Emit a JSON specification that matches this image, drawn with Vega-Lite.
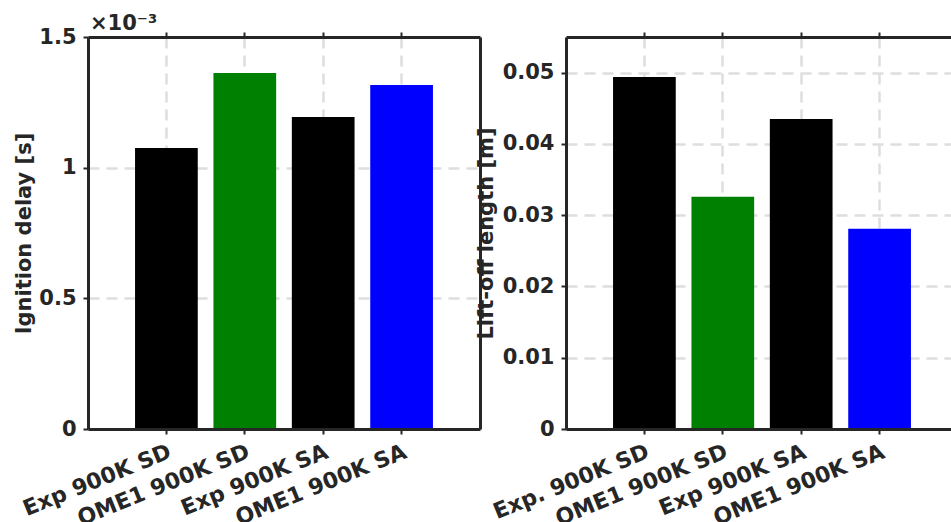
{
  "$schema": "https://vega.github.io/schema/vega-lite/v6.json",
  "padding": {"left": 13, "top": 13, "right": 0, "bottom": 0},
  "bounds": "flush",
  "spacing": 86,
  "config": {
    "font": "DejaVu Sans",
    "view": {"stroke": null},
    "axis": {
      "labelFont": "DejaVu Sans",
      "labelFontWeight": "bold",
      "labelFontSize": 21,
      "labelColor": "#262626",
      "labelLimit": 400,
      "titleFont": "DejaVu Sans",
      "titleFontWeight": "bold",
      "titleFontSize": 21,
      "titleColor": "#262626",
      "domainColor": "#262626",
      "domainWidth": 3,
      "tickColor": "#262626",
      "tickWidth": 2,
      "tickSize": 5,
      "labelPadding": 7,
      "gridColor": "#dedede",
      "gridWidth": 2.5,
      "gridDash": [11, 7]
    }
  },
  "hconcat": [
    {
      "width": 392,
      "height": 392,
      "title": {"text": "×10⁻³", "anchor": "start", "frame": "group", "fontSize": 21, "fontWeight": "bold", "font": "DejaVu Sans", "color": "#262626", "offset": -8, "dx": 2},
      "data": {"values": [
        {"case": "Exp 900K SD", "delay": 1.075},
        {"case": "OME1 900K SD", "delay": 1.362},
        {"case": "Exp 900K SA", "delay": 1.194},
        {"case": "OME1 900K SA", "delay": 1.316}
      ]},
      "layer": [
        {
          "mark": {"type": "bar"},
          "encoding": {
            "x": {"field": "case", "type": "nominal", "sort": null,
              "scale": {"paddingInner": 0.2, "paddingOuter": 0.6},
              "axis": {"orient": "bottom", "title": null, "labelAngle": -22, "labelAlign": "right", "labelBaseline": "top", "labelPadding": 7, "labelFontSize": 22, "grid": true, "domain": false, "zindex": 0}},
            "y": {"field": "delay", "type": "quantitative",
              "scale": {"domain": [0, 1.5], "nice": false},
              "axis": {"orient": "left", "title": "Ignition delay [s]", "values": [0, 0.5, 1, 1.5], "format": "~g", "titlePadding": 4, "grid": true, "domain": false, "zindex": 0}},
            "color": {"field": "case", "type": "nominal", "legend": null,
              "scale": {"domain": ["Exp 900K SD", "OME1 900K SD", "Exp 900K SA", "OME1 900K SA"], "range": ["#000000", "#008000", "#000000", "#0000ff"]}}
          }
        },
        {
          "mark": {"type": "bar", "opacity": 0},
          "encoding": {
            "x": {"field": "case", "type": "nominal", "sort": null,
              "axis": {"orient": "bottom", "title": null, "labels": false, "ticks": false, "grid": false, "domain": true, "zindex": 2}},
            "y": {"field": "delay", "type": "quantitative",
              "axis": {"orient": "left", "title": null, "labels": false, "ticks": false, "grid": false, "domain": true, "zindex": 2}}
          }
        },
        {
          "mark": {"type": "bar", "opacity": 0},
          "encoding": {
            "x": {"field": "case", "type": "nominal", "sort": null,
              "axis": {"orient": "top", "title": null, "labels": false, "ticks": true, "grid": false, "domain": true, "zindex": 2}},
            "y": {"field": "delay", "type": "quantitative",
              "axis": {"orient": "right", "title": null, "labels": false, "ticks": false, "grid": false, "domain": true, "zindex": 2}}
          }
        }
      ],
      "resolve": {"axis": {"x": "independent", "y": "independent"}}
    },
    {
      "width": 392,
      "height": 392,
      "data": {"values": [
        {"case": "Exp. 900K SD", "lol": 0.0494},
        {"case": "OME1 900K SD", "lol": 0.0326},
        {"case": "Exp 900K SA", "lol": 0.0435},
        {"case": "OME1 900K SA", "lol": 0.0281}
      ]},
      "layer": [
        {
          "mark": {"type": "bar"},
          "encoding": {
            "x": {"field": "case", "type": "nominal", "sort": null,
              "scale": {"paddingInner": 0.2, "paddingOuter": 0.6},
              "axis": {"orient": "bottom", "title": null, "labelAngle": -22, "labelAlign": "right", "labelBaseline": "top", "labelPadding": 7, "labelFontSize": 22, "grid": true, "domain": false, "zindex": 0}},
            "y": {"field": "lol", "type": "quantitative",
              "scale": {"domain": [0, 0.055], "nice": false},
              "axis": {"orient": "left", "title": "Lift-off length [m]", "values": [0, 0.01, 0.02, 0.03, 0.04, 0.05], "format": "~g", "titlePadding": 6, "grid": true, "domain": false, "zindex": 0}},
            "color": {"field": "case", "type": "nominal", "legend": null,
              "scale": {"domain": ["Exp. 900K SD", "OME1 900K SD", "Exp 900K SA", "OME1 900K SA"], "range": ["#000000", "#008000", "#000000", "#0000ff"]}}
          }
        },
        {
          "mark": {"type": "bar", "opacity": 0},
          "encoding": {
            "x": {"field": "case", "type": "nominal", "sort": null,
              "axis": {"orient": "bottom", "title": null, "labels": false, "ticks": false, "grid": false, "domain": true, "zindex": 2}},
            "y": {"field": "lol", "type": "quantitative",
              "axis": {"orient": "left", "title": null, "labels": false, "ticks": false, "grid": false, "domain": true, "zindex": 2}}
          }
        },
        {
          "mark": {"type": "bar", "opacity": 0},
          "encoding": {
            "x": {"field": "case", "type": "nominal", "sort": null,
              "axis": {"orient": "top", "title": null, "labels": false, "ticks": true, "grid": false, "domain": true, "zindex": 2}},
            "y": {"field": "lol", "type": "quantitative",
              "axis": {"orient": "right", "title": null, "labels": false, "ticks": false, "grid": false, "domain": true, "zindex": 2}}
          }
        }
      ],
      "resolve": {"axis": {"x": "independent", "y": "independent"}}
    }
  ]
}
